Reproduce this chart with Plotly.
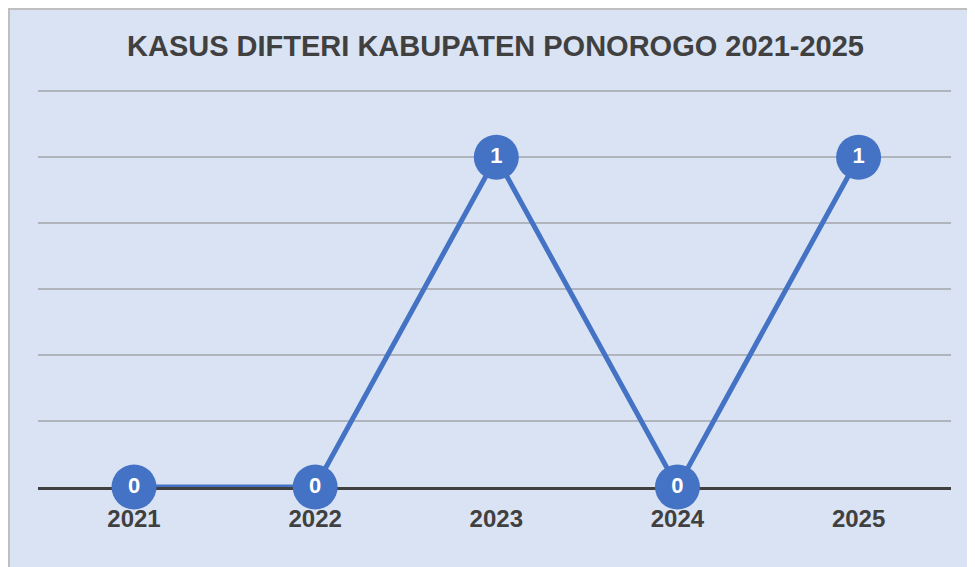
import plotly.graph_objects as go

years = ["2021", "2022", "2023", "2024", "2025"]
cases = [0, 0, 1, 0, 1]
title_text = "KASUS DIFTERI KABUPATEN PONOROGO 2021-2025"

W, H = 975, 567
ml, mr, mt, mb = 30, 32, 80, 88

fig = go.Figure()
fig.add_trace(go.Scatter(
    x=years, y=cases,
    mode="lines+markers+text",
    line=dict(color="#4472c4", width=5),
    marker=dict(size=45, color="#4472c4", line=dict(width=0)),
    text=[str(v) for v in cases],
    textposition="middle center",
    textfont=dict(family="Liberation Sans, Arial", size=22, color="white", weight="bold"),
    cliponaxis=False,
    hoverinfo="x+y",
))

# border around the panel
fig.add_shape(
    type="rect", xref="paper", yref="paper", layer="below",
    x0=-(ml - 1) / (W - ml - mr), x1=(W - ml + 20) / (W - ml - mr),
    y0=-(mb + 20) / (H - mt - mb), y1=1 + (mt - 1) / (H - mt - mb),
    fillcolor="rgba(0,0,0,0)", line=dict(color="#bfbfbf", width=2),
)

fig.update_layout(
    width=W, height=H,
    margin=dict(l=ml, r=mr, t=mt, b=mb),
    paper_bgcolor="#dae3f3",
    plot_bgcolor="rgba(0,0,0,0)",
    showlegend=False,
    title=dict(
        text="<b>" + title_text + "</b>",
        x=0.5, xanchor="center", y=1 - 38 / H, yanchor="middle",
        font=dict(family="Liberation Sans, Arial", size=29, color="#404040"),
    ),
    xaxis=dict(
        type="category",
        range=[-0.53, 4.51],
        showgrid=False,
        showline=True, linecolor="#404040", linewidth=3,
        layer="below traces",
        ticks="outside", ticklen=8, tickcolor="rgba(0,0,0,0)",
        tickfont=dict(family="Liberation Sans, Arial", size=24, color="#404040", weight="bold"),
        fixedrange=True,
    ),
    yaxis=dict(
        range=[0, 1.21], dtick=0.2,
        showgrid=True, gridcolor="#b0b5bd", gridwidth=2,
        zeroline=False,
        showticklabels=False,
        showline=False,
        fixedrange=True,
    ),
)

fig.write_html("out.html")
